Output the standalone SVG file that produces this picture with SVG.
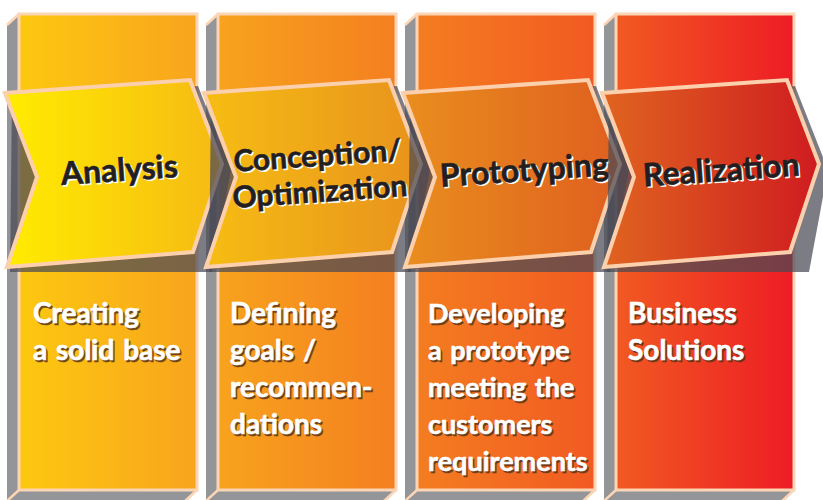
<svg xmlns="http://www.w3.org/2000/svg" width="823" height="500" viewBox="0 0 823 500">
<defs>
<linearGradient id="c1"><stop offset="0" stop-color="#FDC80F"/><stop offset="1" stop-color="#F8A51D"/></linearGradient>
<linearGradient id="c2"><stop offset="0" stop-color="#F8A31D"/><stop offset="1" stop-color="#F47F20"/></linearGradient>
<linearGradient id="c3"><stop offset="0" stop-color="#F47D20"/><stop offset="1" stop-color="#F15A22"/></linearGradient>
<linearGradient id="c4"><stop offset="0" stop-color="#F15A22"/><stop offset="1" stop-color="#ED1C24"/></linearGradient>
<linearGradient id="h1"><stop offset="0" stop-color="#FFEC00"/><stop offset="1" stop-color="#F6B914"/></linearGradient>
<linearGradient id="h2"><stop offset="0" stop-color="#F6BD13"/><stop offset="1" stop-color="#E8921D"/></linearGradient>
<linearGradient id="h3"><stop offset="0" stop-color="#E98E1E"/><stop offset="1" stop-color="#DF5F1F"/></linearGradient>
<linearGradient id="h4"><stop offset="0" stop-color="#E06420"/><stop offset="1" stop-color="#CF1C20"/></linearGradient>
<polygon id="side" points="19,14 7,25 7,503 185,503 197,490 19,490"/>
<polygon id="shad" points="12,98 198,86 231,170 212,272 10,272"/>
</defs>
<style>
.side{fill:#939598}
.face{stroke:#FCD5B5;stroke-width:3}
.edge{stroke:#FCD5B5;stroke-width:2.5;fill:none}
.chev{stroke:#FCD0AC;stroke-width:4;stroke-linejoin:miter}
.shad{fill:#4a4a55;opacity:0.72}
.lbl{font-family:Lato,"Open Sans",sans-serif;font-weight:bold;font-size:32px;text-anchor:middle;stroke-width:0.6}
.lbl2{font-size:30px}
.lblw{fill:#ffffff;stroke:#ffffff}
.lbld{fill:#231F20;stroke:#231F20}
.desc{font-family:Lato,"Open Sans",sans-serif;font-weight:bold;font-size:28px;word-spacing:2px;stroke-width:0.6}
.desc3{font-size:27px}
.descs{fill:#5a3418;stroke:#5a3418;opacity:0.85}
.descw{fill:#ffffff;stroke:#ffffff}
</style>

<g id="col-1">
<use href="#side" class="side"/>
<path class="edge" d="M7,25 L19,14 M19,490 L7,501 M197,490 L185,501"/>
<rect class="face" fill="url(#c1)" x="19" y="14" width="178" height="476"/>
<text class="desc descs" x="34.5" y="324.5"><tspan x="34.5">Creating</tspan><tspan x="34.5" dy="37">a solid base</tspan></text>
<text class="desc descw" x="33" y="323"><tspan x="33">Creating</tspan><tspan x="33" dy="37">a solid base</tspan></text>
</g>
<g id="col-2" transform="translate(199,0)">
<use href="#side" class="side"/>
<path class="edge" d="M7,25 L19,14 M19,490 L7,501 M197,490 L185,501"/>
<rect class="face" fill="url(#c2)" x="19" y="14" width="178" height="476"/>
<text class="desc descs" x="32.5" y="324.5"><tspan x="32.5">Defining</tspan><tspan x="32.5" dy="37">goals /</tspan><tspan x="32.5" dy="37">recommen-</tspan><tspan x="32.5" dy="37">dations</tspan></text>
<text class="desc descw" x="31" y="323"><tspan x="31">Defining</tspan><tspan x="31" dy="37">goals /</tspan><tspan x="31" dy="37">recommen-</tspan><tspan x="31" dy="37">dations</tspan></text>
</g>
<g id="col-3" transform="translate(398,0)">
<use href="#side" class="side"/>
<path class="edge" d="M7,25 L19,14 M19,490 L7,501 M197,490 L185,501"/>
<rect class="face" fill="url(#c3)" x="19" y="14" width="178" height="476"/>
<text class="desc desc3 descs" x="31.5" y="324.5"><tspan x="31.5">Developing</tspan><tspan x="31.5" dy="37">a prototype</tspan><tspan x="31.5" dy="37">meeting the</tspan><tspan x="31.5" dy="37">customers</tspan><tspan x="31.5" dy="37">requirements</tspan></text>
<text class="desc desc3 descw" x="30" y="323"><tspan x="30">Developing</tspan><tspan x="30" dy="37">a prototype</tspan><tspan x="30" dy="37">meeting the</tspan><tspan x="30" dy="37">customers</tspan><tspan x="30" dy="37">requirements</tspan></text>
</g>
<g id="col-4" transform="translate(597,0)">
<use href="#side" class="side"/>
<path class="edge" d="M7,25 L19,14 M19,490 L7,501 M197,490 L185,501"/>
<rect class="face" fill="url(#c4)" x="19" y="14" width="178" height="476"/>
<text class="desc descs" x="32.5" y="324.5"><tspan x="32.5">Business</tspan><tspan x="32.5" dy="37">Solutions</tspan></text>
<text class="desc descw" x="31" y="323"><tspan x="31">Business</tspan><tspan x="31" dy="37">Solutions</tspan></text>
</g>

<g id="chev-1">
<use href="#shad" class="shad"/>
<polygon class="chev" fill="url(#h1)" points="5,93 190,80 222,164 193,252 7,267 37,177"/>
<g transform="translate(120,181) rotate(-4)">
<text class="lbl lblw" x="1.5" y="1.5">Analysis</text>
<text class="lbl lbld" x="0" y="0">Analysis</text>
</g>
</g>
<g id="chev-2" transform="translate(199,0)">
<use href="#shad" class="shad"/>
<polygon class="chev" fill="url(#h2)" points="5,93 190,80 222,164 193,252 7,267 37,177"/>
<g transform="translate(119,166) rotate(-4)">
<text class="lbl lbl2 lblw" x="1.5" y="1.5">Conception/</text>
<text class="lbl lbl2 lbld" x="0" y="0">Conception/</text>
<text class="lbl lbl2 lblw" x="1.5" y="37.5">Optimization</text>
<text class="lbl lbl2 lbld" x="0" y="36">Optimization</text>
</g>
</g>
<g id="chev-3" transform="translate(398,0)">
<use href="#shad" class="shad"/>
<polygon class="chev" fill="url(#h3)" points="5,93 190,80 222,164 193,252 7,267 37,177"/>
<g transform="translate(127,181) rotate(-4)">
<text class="lbl lblw" x="1.5" y="1.5">Prototyping</text>
<text class="lbl lbld" x="0" y="0">Prototyping</text>
</g>
</g>
<g id="chev-4" transform="translate(597,0)">
<use href="#shad" class="shad"/>
<polygon class="chev" fill="url(#h4)" points="5,93 190,80 222,164 193,252 7,267 37,177"/>
<g transform="translate(125,181) rotate(-4)">
<text class="lbl lblw" x="1.5" y="1.5">Realization</text>
<text class="lbl lbld" x="0" y="0">Realization</text>
</g>
</g>
<g id="connectors"/>
</svg>
